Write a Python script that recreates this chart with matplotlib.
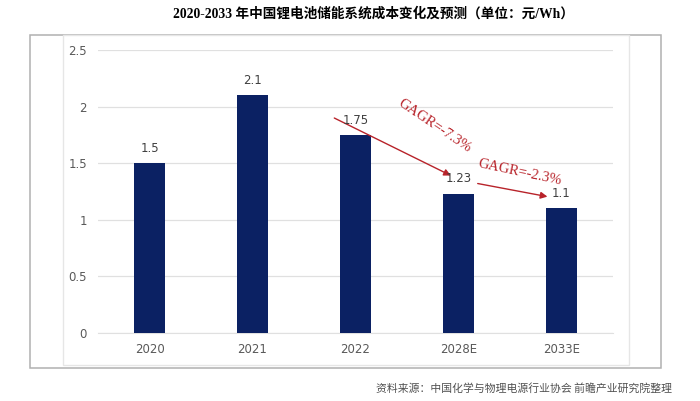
import matplotlib.pyplot as plt
from matplotlib.patches import Rectangle

# datos
categories = ['2020', '2021', '2022', '2028E', '2033E']
costs = [1.5, 2.1, 1.75, 1.23, 1.1]
yticks = [0, 0.5, 1, 1.5, 2, 2.5]
ytick_labels = ['0', '0.5', '1', '1.5', '2', '2.5']
cagr_labels = ['GAGR=-7.3%', 'GAGR=-2.3%']

title = '2020-2033 年中国锂电池储能系统成本变化及预测（单位：元/Wh）'
source = '资料来源：中国化学与物理电源行业协会 前瞻产业研究院整理'

bar_color = '#0b2163'
red = '#b8232a'
gray = '#595959'

fig = plt.figure(figsize=(7, 4.01), dpi=100)
W, H = 700, 401

# marcos
fig.patches.append(Rectangle((30 / W, 1 - 368 / H), 631 / W, 333 / H, transform=fig.transFigure,
                             fill=False, edgecolor='#b0b0b0', linewidth=1.1))
fig.patches.append(Rectangle((63 / W, 1 - 365 / H), 566 / W, 330 / H, transform=fig.transFigure,
                             fill=False, edgecolor='#e6e6e6', linewidth=1.0))

ax = fig.add_axes([98 / W, 1 - 333 / H, 515 / W, 283 / H])
x = list(range(len(categories)))
ax.bar(x, costs, width=0.31, color=bar_color, zorder=3)
ax.set_xlim(-0.5, len(categories) - 0.5)
ax.set_ylim(0, 2.5)
ax.set_yticks(yticks)
ax.set_yticklabels(ytick_labels)
ax.set_xticks(x)
ax.set_xticklabels(categories)
ax.tick_params(axis='both', length=0, colors=gray, labelsize=8.5)
ax.tick_params(axis='y', pad=8)
ax.tick_params(axis='x', pad=7)
ax.grid(axis='y', color='#e0e0e0', linewidth=0.9, zorder=0)
for s in ax.spines.values():
    s.set_visible(False)
ax.spines['bottom'].set_visible(True)
ax.spines['bottom'].set_color('#e0e0e0')

for xi, v in zip(x, costs):
    ax.annotate(f'{v:g}', (xi, v), xytext=(0, 6), textcoords='offset points',
                ha='center', va='bottom', fontsize=8.5, color='#404040', zorder=5)

# flechas CAGR
ax.annotate('', xy=(2.95, 1.38), xytext=(1.77, 1.91),
            arrowprops=dict(arrowstyle='-|>', color=red, lw=1.0, mutation_scale=10), zorder=4)
ax.annotate('', xy=(3.89, 1.20), xytext=(3.16, 1.325),
            arrowprops=dict(arrowstyle='-|>', color=red, lw=1.0, mutation_scale=10), zorder=4)
ax.text(2.77, 1.83, cagr_labels[0], rotation=-34, ha='center', va='center',
        color=red, fontsize=10.5, family='Liberation Serif', rotation_mode='anchor')
ax.text(3.59, 1.42, cagr_labels[1], rotation=-12, ha='center', va='center',
        color=red, fontsize=10.5, family='Liberation Serif', rotation_mode='anchor')

fig.text(373 / W, 1 - 14 / H, title, ha='center', va='center', fontsize=9.8, fontweight='bold',
         family=['Liberation Serif', 'Noto Sans CJK SC'])
fig.text(672 / W, 1 - 388 / H, source, ha='right', va='center', fontsize=7.8, color='#505050',
         style='italic', family=['Noto Sans CJK SC', 'DejaVu Sans'])

fig.savefig('out.png', dpi=100)
